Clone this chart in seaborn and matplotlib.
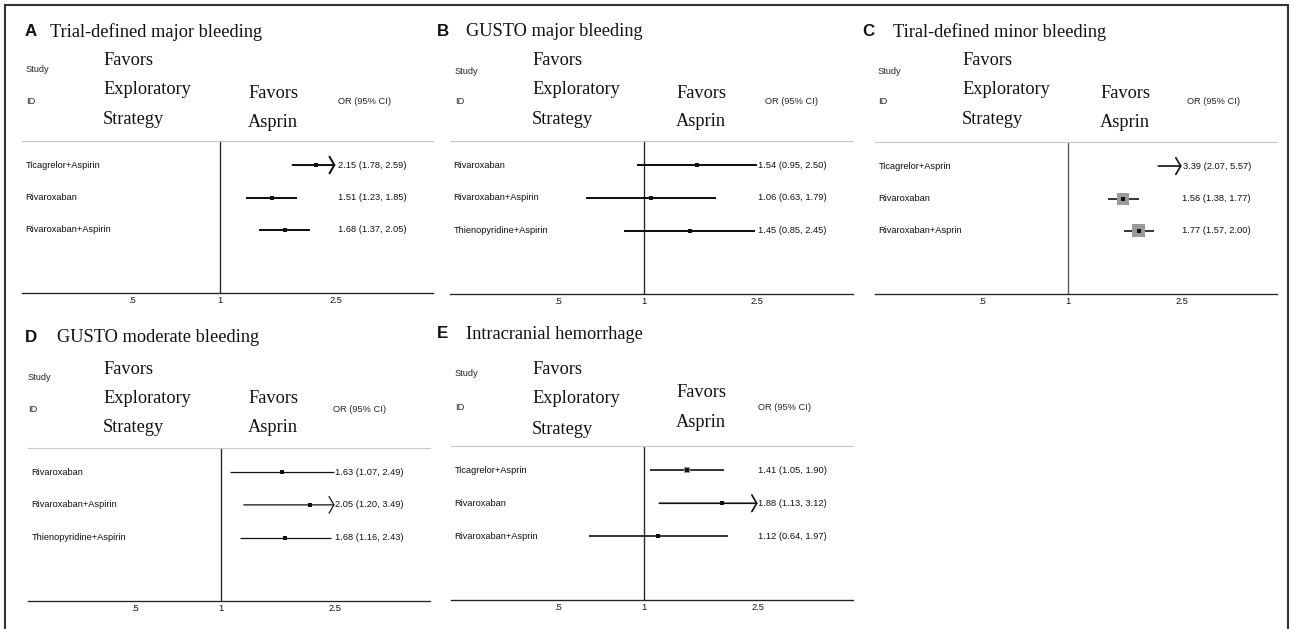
import numpy as np
import pandas as pd
import matplotlib
matplotlib.use("Agg")
import matplotlib.pyplot as plt
from matplotlib.patches import Rectangle
from matplotlib.ticker import NullLocator
import seaborn as sns

# ---------------- data ----------------
panel_letters = ["A", "B", "C", "D", "E"]
panel_titles = ["Trial-defined major bleeding", "GUSTO major bleeding",
                "Tiral-defined minor bleeding", "GUSTO moderate bleeding",
                "Intracranial hemorrhage"]

a_studies = ["Ticagrelor+Aspirin", "Rivaroxaban", "Rivaroxaban+Aspirin"]
a_or = [2.15, 1.51, 1.68]
a_lo = [1.78, 1.23, 1.37]
a_hi = [2.59, 1.85, 2.05]

b_studies = ["Rivaroxaban", "Rivaroxaban+Aspirin", "Thienopyridine+Aspirin"]
b_or = [1.54, 1.06, 1.45]
b_lo = [0.95, 0.63, 0.85]
b_hi = [2.50, 1.79, 2.45]

c_studies = ["Ticagrelor+Asprin", "Rivaroxaban", "Rivaroxaban+Asprin"]
c_or = [3.39, 1.56, 1.77]
c_lo = [2.07, 1.38, 1.57]
c_hi = [5.57, 1.77, 2.00]

d_studies = ["Rivaroxaban", "Rivaroxaban+Aspirin", "Thienopyridine+Aspirin"]
d_or = [1.63, 2.05, 1.68]
d_lo = [1.07, 1.20, 1.16]
d_hi = [2.49, 3.49, 2.43]

e_studies = ["Ticagrelor+Asprin", "Rivaroxaban", "Rivaroxaban+Asprin"]
e_or = [1.41, 1.88, 1.12]
e_lo = [1.05, 1.13, 0.64]
e_hi = [1.90, 3.12, 1.97]

tick_values = [0.5, 1, 2.5]
tick_labels = [".5", "1", "2.5"]
header_left = ["Favors", "Exploratory", "Strategy"]
header_right = ["Favors", "Asprin"]
col_study = ["Study", "ID"]
col_or = "OR (95% CI)"
clip_max = 2.5

# ---------------- style / layout (pixels) ----------------
W, H = 1292, 629
DPI = 100
SANS = ["Liberation Sans", "DejaVu Sans"]
SERIF = ["Liberation Serif", "DejaVu Serif"]

sns.set_theme(style="white")
plt.rcParams["font.family"] = SANS

panels = [
    dict(data=(a_studies, a_or, a_lo, a_hi), box=[0, 0, 0], lw=1.45, dot=2.9, vcol="#222222",
         axes=(22, 141, 433, 293),
         letter=(25, 31), title=(50, 37), study=(26, 69, 102), favl=(103, 65, 94, 124),
         favr=(248, 98, 127), orh=(338, 102)),
    dict(data=(b_studies, b_or, b_lo, b_hi), box=[0, 0, 0], lw=1.45, dot=2.9, vcol="#222222",
         axes=(450, 141, 853, 294),
         letter=(437, 31), title=(466, 36), study=(455, 72, 102), favl=(532, 65, 94, 124),
         favr=(676, 98, 126), orh=(765, 102)),
    dict(data=(c_studies, c_or, c_lo, c_hi), box=[0, 12, 13], lw=1.2, dot=2.2, vcol="#555555",
         axes=(875, 142, 1277, 294),
         letter=(862, 31), title=(893, 37), study=(878, 72, 102), favl=(962, 65, 94, 124),
         favr=(1100, 98, 127), orh=(1187, 102)),
    dict(data=(d_studies, d_or, d_lo, d_hi), box=[0, 0, 5], lw=0.9, dot=2.7, vcol="#222222",
         axes=(28, 448, 430, 601),
         letter=(25, 337), title=(57, 342), study=(28, 377, 410), favl=(103, 374, 403, 432),
         favr=(248, 403, 432), orh=(333, 410)),
    dict(data=(e_studies, e_or, e_lo, e_hi), box=[6, 0, 0], lw=1.2, dot=2.7, vcol="#222222",
         axes=(451, 446, 853, 600),
         letter=(437, 333), title=(466, 339), study=(455, 373, 407), favl=(532, 374, 403, 434),
         favr=(676, 397, 427), orh=(758, 407)),
]

fig = plt.figure(figsize=(W / DPI, H / DPI), dpi=DPI)
fig.patch.set_facecolor("white")


def fx(px):
    return px / W


def fy(py):
    return 1 - py / H


SERIF_SIZE = 13.2
SMALL = 6.7

for i, p in enumerate(panels):
    studies, ors, los, his = p["data"]
    l, t, r, b = p["axes"]
    ax = fig.add_axes([fx(l), fy(b), (r - l) / W, (b - t) / H])
    ax.set_facecolor("white")
    rows = np.arange(1, len(studies) + 1)
    df = pd.DataFrame({"study": studies, "or": ors, "lo": los, "hi": his, "row": rows,
                       "box": p["box"]})
    ax.set_xscale("log")
    ax.set_xlim(0.21, 5.4)
    ax.set_ylim(4.94, 0.26)

    # reference line at OR = 1
    ax.axvline(1, color=p["vcol"], lw=0.95, zorder=1)

    # confidence intervals
    for _, row in df.iterrows():
        hi = min(row["hi"], clip_max)
        if row["hi"] > clip_max:
            ax.annotate("", xy=(hi, row["row"]), xytext=(row["lo"], row["row"]),
                        arrowprops=dict(arrowstyle="->,head_length=0.35,head_width=0.6",
                                        lw=p["lw"], color="#111111", shrinkA=0, shrinkB=0,
                                        mutation_scale=10), zorder=2)
        else:
            ax.hlines(row["row"], row["lo"], hi, color="#111111", lw=p["lw"], zorder=2)

    vis = df[df["or"] <= clip_max]
    boxes = vis[vis["box"] > 0]
    if len(boxes):
        sns.scatterplot(data=boxes, x="or", y="row", marker="s", color="#999999",
                        s=(boxes["box"] * 0.72) ** 2, linewidth=0, ax=ax, zorder=3,
                        legend=False)
    sns.scatterplot(data=vis, x="or", y="row", marker="s", color="#111111",
                    s=p["dot"] ** 2, linewidth=0, ax=ax, zorder=4, legend=False)

    # row labels and estimate texts
    for _, row in df.iterrows():
        ax.text(0.009, row["row"], row["study"], transform=ax.get_yaxis_transform(),
                ha="left", va="center", fontsize=SMALL, color="#111111")
        ax.text(0.935, row["row"], f"{row['or']:.2f} ({row['lo']:.2f}, {row['hi']:.2f})",
                transform=ax.get_yaxis_transform(), ha="right", va="center",
                fontsize=SMALL, color="#111111")

    ax.set_xticks(tick_values)
    ax.set_xticklabels(tick_labels)
    ax.xaxis.set_minor_locator(NullLocator())
    ax.set_yticks([])
    ax.set_xlabel("")
    ax.set_ylabel("")
    ax.tick_params(axis="x", length=0, pad=2.5, labelsize=SMALL, labelcolor="#111111")
    for side in ["left", "right"]:
        ax.spines[side].set_visible(False)
    ax.spines["top"].set_color("#c8c8c8")
    ax.spines["top"].set_linewidth(0.8)
    ax.spines["bottom"].set_color("#222222")
    ax.spines["bottom"].set_linewidth(0.95)

    # headers
    lx, ly = p["letter"]
    fig.text(fx(lx), fy(ly), panel_letters[i], ha="left", va="center", fontsize=12.2,
             fontweight="bold", color="#111111")
    tx, ty = p["title"]
    fig.text(fx(tx), fy(ty), panel_titles[i], ha="left", va="baseline",
             fontsize=SERIF_SIZE, family=SERIF, color="#111111")
    sx, sy1, sy2 = p["study"]
    fig.text(fx(sx), fy(sy1), col_study[0], ha="left", va="center", fontsize=SMALL)
    fig.text(fx(sx), fy(sy2), col_study[1], ha="left", va="center", fontsize=SMALL)
    flx = p["favl"][0]
    for txt, yy in zip(header_left, p["favl"][1:]):
        fig.text(fx(flx), fy(yy), txt, ha="left", va="baseline", fontsize=SERIF_SIZE,
                 family=SERIF, color="#111111")
    frx = p["favr"][0]
    for txt, yy in zip(header_right, p["favr"][1:]):
        fig.text(fx(frx), fy(yy), txt, ha="left", va="baseline", fontsize=SERIF_SIZE,
                 family=SERIF, color="#111111")
    ox, oy = p["orh"]
    fig.text(fx(ox), fy(oy), col_or, ha="left", va="center", fontsize=SMALL)

# outer frame
fig.patches.append(Rectangle((fx(5), fy(660)), (1288 - 5) / W, (660 - 5) / H,
                             transform=fig.transFigure, fill=False, edgecolor="#333333",
                             lw=1.5, clip_on=False))

fig.savefig("out.png", dpi=DPI, facecolor="white")
